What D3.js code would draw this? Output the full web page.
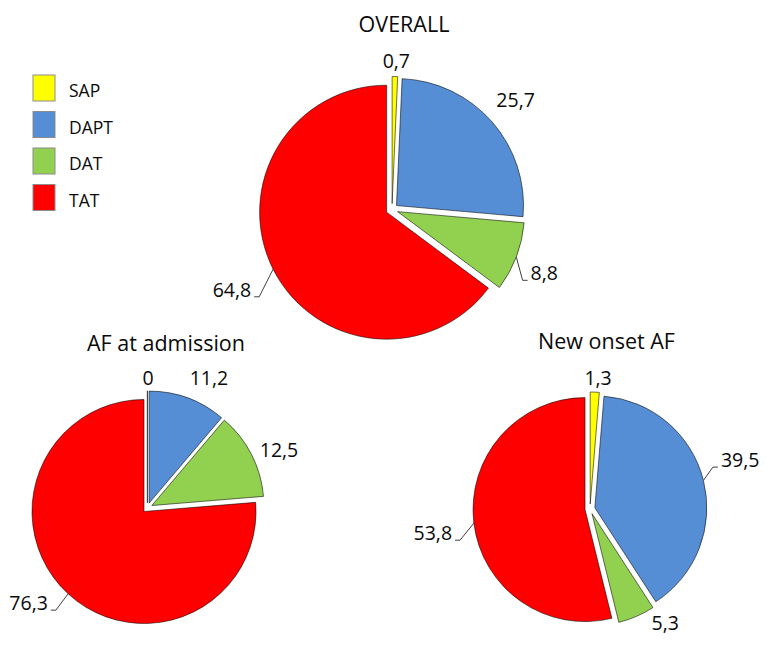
<!DOCTYPE html>
<html>
<head>
<meta charset="utf-8">
<script src="https://cdn.jsdelivr.net/npm/d3@7"></script>
<style>
  html, body { margin: 0; padding: 0; background: #fff; }
  svg { display: block; }
  text { font-family: "Open Sans", "Liberation Sans", sans-serif; fill: #0a0a0a; }
</style>
</head>
<body>
<svg id="chart" width="767" height="645"></svg>
<script>
// Antithrombotic therapy shares (%)
const categories = ["SAP", "DAPT", "DAT", "TAT"];
const overallValues = [0.7, 25.7, 8.8, 64.8];
const admissionValues = [0, 11.2, 12.5, 76.3];
const newOnsetValues = [1.3, 39.5, 5.3, 53.8];
const chartTitles = ["OVERALL", "AF at admission", "New onset AF"];

const colors = ["#FFFF00", "#558ED5", "#92D050", "#FF0000"];

// Layout of each pie: centre, radius, slice explosion, title anchor and
// label placement (angle shift in degrees from slice middle, distance as a
// multiple of the radius, whether a leader line is drawn).
const pies = [
  { values: overallValues, title: chartTitles[0], cx: 392, cy: 209.5, r: 127, explode: 6,
    titleX: 404, titleY: 32,
    labels: [[0.4, 1.17, false], [-0.3, 1.30, false], [1.85, 1.30, true], [0, 1.41, true]] },
  { values: admissionValues, title: chartTitles[1], cx: 147.4, cy: 507.8, r: 112, explode: 5,
    titleX: 166, titleY: 351,
    labels: [[0.3, 1.16, false], [5.2, 1.283, false], [3.5, 1.283, false], [8.6, 1.36, true]] },
  { values: newOnsetValues, title: chartTitles[2], cx: 590, cy: 509, r: 112, explode: 5,
    titleX: 606.5, titleY: 349,
    labels: [[1.2, 1.17, false], [-3.9, 1.41, true], [-10, 1.22, false], [-1.8, 1.42, true]] }
];

const labelSize = 19.5;
const fmt = d3.formatLocale({ decimal: ",", thousands: ".", grouping: [3], currency: ["", ""] })
  .format(".1~f");

const svg = d3.select("#chart");
const color = d3.scaleOrdinal().domain(categories).range(colors);
const pie = d3.pie().sort(null).value(d => d.value).startAngle(0).endAngle(2 * Math.PI);

const polar = (a, dist) => [Math.sin(a) * dist, -Math.cos(a) * dist];

pies.forEach(p => {
  const g = svg.append("g").attr("transform", `translate(${p.cx},${p.cy})`);
  const arc = d3.arc().innerRadius(0).outerRadius(p.r);
  const arcs = pie(categories.map((c, i) => ({ category: c, value: p.values[i] })));

  // exploded slices
  g.selectAll("path.slice")
    .data(arcs)
    .join("path")
    .attr("class", "slice")
    .attr("transform", d => {
      const mid = (d.startAngle + d.endAngle) / 2;
      const [dx, dy] = polar(mid, p.explode);
      return `translate(${dx},${dy})`;
    })
    .attr("d", arc)
    .attr("fill", d => color(d.data.category))
    .attr("stroke", "rgba(0,0,0,0.55)")
    .attr("stroke-width", 1)
    .attr("stroke-linejoin", "miter");

  // value labels
  arcs.forEach((d, i) => {
    const [shift, factor, leader] = p.labels[i];
    const mid = (d.startAngle + d.endAngle) / 2;
    const la = mid + shift * Math.PI / 180;
    const [lx, ly] = polar(la, p.r * factor);
    const baseY = ly + labelSize * 0.36;
    const t = g.append("text")
      .attr("x", lx)
      .attr("y", baseY)
      .attr("text-anchor", "middle")
      .attr("font-size", labelSize)
      .text(fmt(d.data.value));

    if (leader) {
      const w = t.node().getComputedTextLength();
      const [ox, oy] = polar(mid, p.explode);
      const [ex, ey] = polar(mid, p.r);
      const edge = [ox + ex, oy + ey];
      const right = lx > 0;
      const endX = right ? lx - w / 2 - 3 : lx + w / 2 + 3;
      const elbowX = right ? endX - 5 : endX + 5;
      g.append("path")
        .attr("d", d3.line()([edge, [elbowX, baseY], [endX, baseY]]))
        .attr("fill", "none")
        .attr("stroke", "#404040")
        .attr("stroke-width", 1);
    }
  });

  // chart title
  svg.append("text")
    .attr("x", p.titleX)
    .attr("y", p.titleY)
    .attr("text-anchor", "middle")
    .attr("font-size", 21.5)
    .text(p.title);
});

// legend
const legend = svg.append("g").attr("transform", "translate(33,75)");
const row = legend.selectAll("g")
  .data(categories)
  .join("g")
  .attr("transform", (d, i) => `translate(0,${i * 36.5})`);
row.append("rect")
  .attr("width", 22)
  .attr("height", 26)
  .attr("fill", d => color(d))
  .attr("stroke", "#8c8c8c")
  .attr("stroke-width", 1);
row.append("text")
  .attr("x", 36)
  .attr("y", 22)
  .attr("font-size", 17.5)
  .text(d => d);
</script>
</body>
</html>
